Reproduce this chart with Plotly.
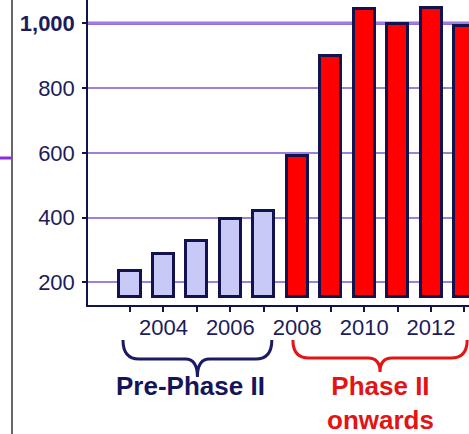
import plotly.graph_objects as go

# Yearly totals
years_pre = [2003, 2004, 2005, 2006, 2007]
values_pre = [236, 287, 328, 395, 419]
years_post = [2008, 2009, 2010, 2011, 2012, 2013]
values_post = [589, 900, 1045, 997, 1047, 993]
bar_base = 155

y_ticks = [200, 400, 600, 800, 1000]
y_ticktext = ["200", "400", "600", "800", "<b>1,000</b>"]
x_ticks = list(range(2003, 2014))
x_ticktext = [str(y) if y % 2 == 0 else "" for y in x_ticks]

NAVY = "#12124f"
GRID = "#9b80e0"
FONT = "Arial, Liberation Sans, sans-serif"

W, H = 469, 434
ML, MR, MT, MB = 88, 0, 0, 129
PW, PH = W - ML - MR, H - MT - MB
X_RANGE = [2001.744, 2013.135]
Y_RANGE = [130, 1072]


def xp(year):
    return (year - X_RANGE[0]) / (X_RANGE[1] - X_RANGE[0])


def yp(px_below_axis):
    return -px_below_axis / PH


def brace(x0, x1, drop, tip):
    """Curly brace path (paper coords) opening upward under the axis."""
    xc = (x0 + x1) / 2
    r = 16 / PW
    c = 12 / PW
    ytop, ybar, ytip = yp(35), yp(35 + drop), yp(35 + tip)
    return (f"M {x0},{ytop} Q {x0},{ybar} {x0 + r},{ybar} "
            f"L {xc - c},{ybar} Q {xc},{ybar} {xc},{ytip} "
            f"Q {xc},{ybar} {xc + c},{ybar} "
            f"L {x1 - r},{ybar} Q {x1},{ybar} {x1},{ytop}")


fig = go.Figure()
fig.add_trace(go.Bar(x=years_pre, y=[v - bar_base for v in values_pre], base=bar_base,
                     width=0.63, marker=dict(color="#c9c9f7", line=dict(color=NAVY, width=3)),
                     showlegend=False))
fig.add_trace(go.Bar(x=years_post, y=[v - bar_base for v in values_post], base=bar_base,
                     width=0.63, marker=dict(color="#ff0000", line=dict(color=NAVY, width=3)),
                     showlegend=False))

shapes = [
    # emphasised 1,000 gridline
    dict(type="line", xref="paper", yref="y", x0=0, x1=1, y0=1000, y1=1000,
         line=dict(color="#9370db", width=3.5), layer="between"),
    # slide frame line and accent on the left
    dict(type="line", xref="paper", yref="paper", x0=-(ML - 12) / PW, x1=-(ML - 12) / PW,
         y0=yp(H - PH), y1=1, line=dict(color="#333333", width=1.5)),
    dict(type="line", xref="paper", yref="paper", x0=-ML / PW, x1=-(ML - 11) / PW,
         y0=(PH - 158) / PH, y1=(PH - 158) / PH, line=dict(color="#8a2be2", width=3)),
    # group braces
    dict(type="path", xref="paper", yref="paper",
         path=brace(xp(years_pre[0] - 0.21), xp(years_pre[-1] + 0.24), 19, 37),
         line=dict(color="#1a1a66", width=3)),
    dict(type="path", xref="paper", yref="paper",
         path=brace(xp(years_post[0] - 0.13), xp(years_post[-1] + 0.08), 18, 32),
         line=dict(color="#e31414", width=3)),
]

annotations = [
    dict(text="<b>Pre-Phase II</b>", xref="paper", yref="paper",
         x=xp((years_pre[0] + years_pre[-1]) / 2) - 6 / PW, y=yp(81),
         showarrow=False, xanchor="center", yanchor="middle",
         font=dict(family=FONT, size=26, color="#14145a")),
    dict(text="<b>Phase II<br>onwards</b>", xref="paper", yref="paper",
         x=xp((years_post[0] + years_post[-1]) / 2), y=yp(98),
         showarrow=False, xanchor="center", yanchor="middle",
         font=dict(family=FONT, size=26, color="#e31414")),
]

fig.update_layout(
    width=W, height=H,
    margin=dict(l=ML, r=MR, t=MT, b=MB),
    paper_bgcolor="white", plot_bgcolor="white",
    bargap=0, barmode="overlay",
    shapes=shapes, annotations=annotations,
    font=dict(family=FONT, color=NAVY),
)
fig.update_xaxes(
    range=X_RANGE, tickvals=x_ticks, ticktext=x_ticktext,
    showgrid=False, zeroline=False, showline=True, linecolor=NAVY, linewidth=1.5,
    ticks="outside", ticklen=5, tickwidth=1.5, tickcolor=NAVY,
    ticklabelstandoff=-3,
    tickfont=dict(family=FONT, size=22, color="#1c1c5c"),
)
fig.update_yaxes(
    range=Y_RANGE, tickvals=y_ticks, ticktext=y_ticktext,
    showgrid=True, gridcolor=GRID, gridwidth=1.5, zeroline=False,
    showline=True, linecolor=NAVY, linewidth=1.5,
    ticks="outside", ticklen=4, tickwidth=1.5, tickcolor=NAVY,
    ticklabelstandoff=3,
    tickfont=dict(family=FONT, size=22, color="#1c1c5c"),
)

fig.write_html("out.html")
